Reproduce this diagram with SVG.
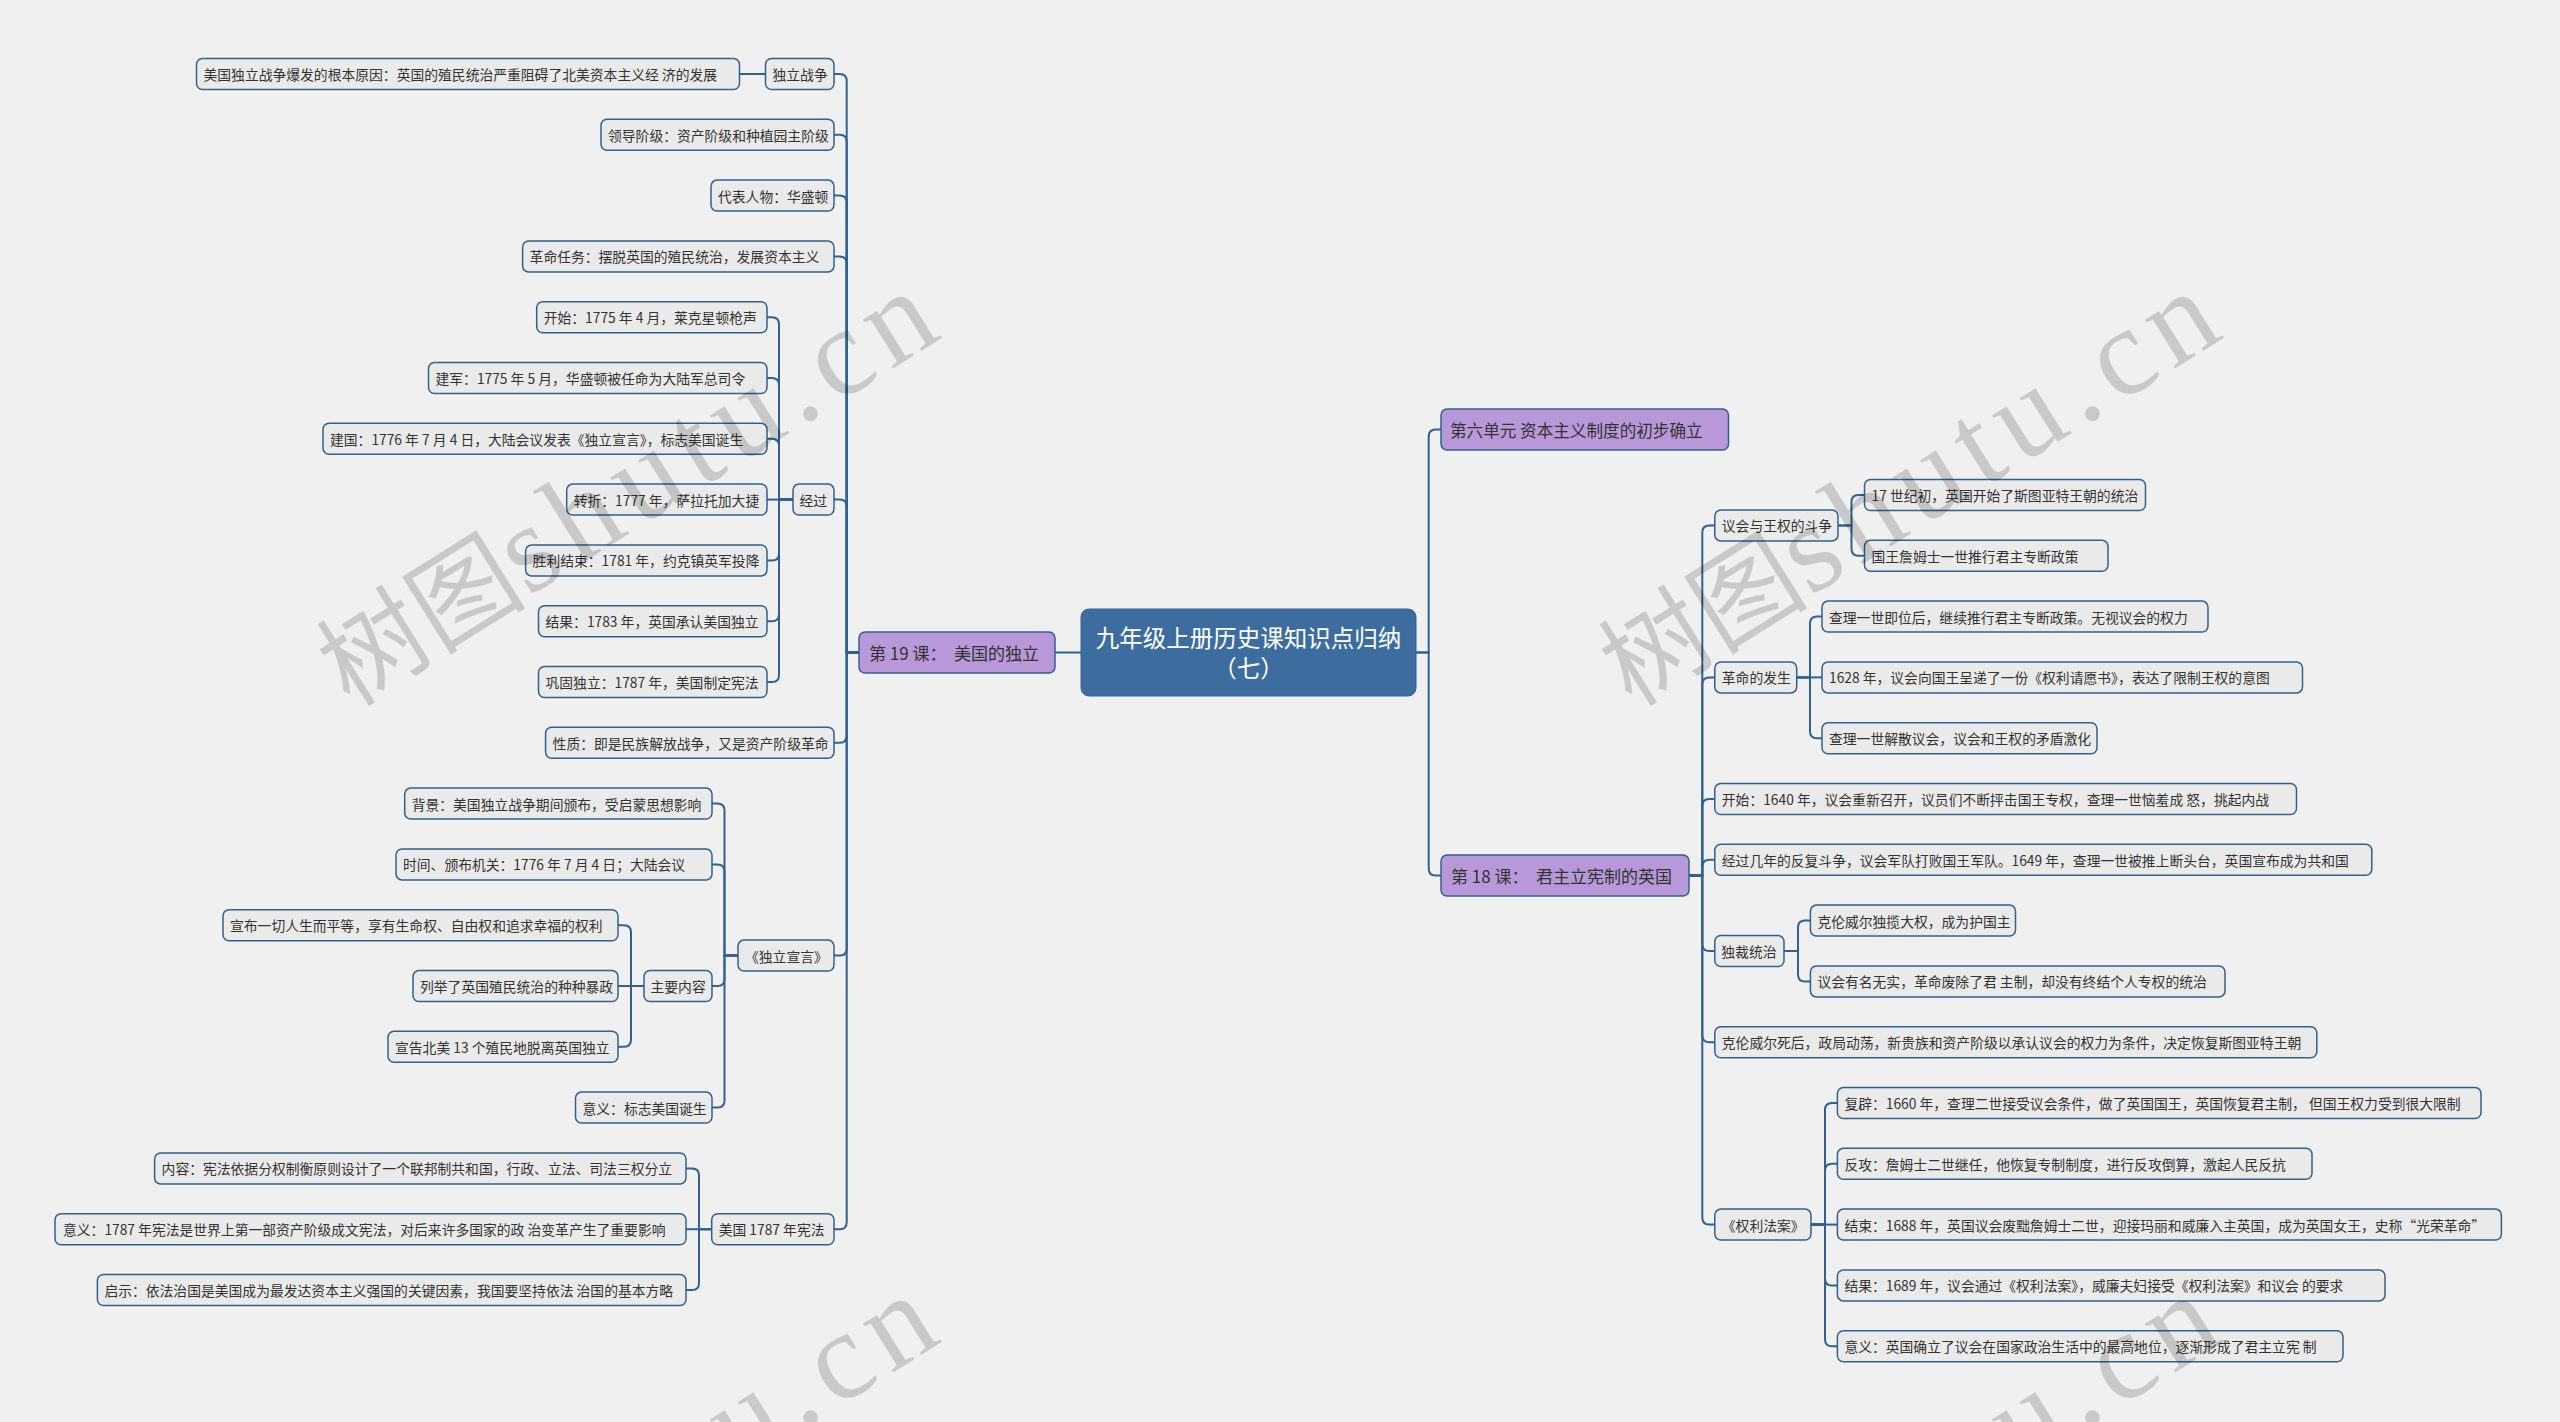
<svg xmlns="http://www.w3.org/2000/svg" width="2560" height="1422" viewBox="0 0 2560 1422">
<style>
.bg{fill:#f0f0f0}
.box{fill:#eaeaea;stroke:#30618f;stroke-width:1.5}
.lv1{fill:#b898d9;stroke:#30618f;stroke-width:1.5}
.root{fill:#3c6d9e;stroke:#35658f;stroke-width:1}
.c{fill:none;stroke:#30618f;stroke-width:2}
.t{font-family:"Noto Sans CJK SC","Liberation Sans",sans-serif;font-size:13.8px;fill:#333333;dominant-baseline:central;white-space:pre}
.t1{font-family:"Noto Sans CJK SC","Liberation Sans",sans-serif;font-size:17px;fill:#333333;dominant-baseline:central;white-space:pre}
.tr{font-family:"Noto Sans CJK SC","Liberation Sans",sans-serif;font-size:23.5px;fill:#ffffff;dominant-baseline:central;text-anchor:middle}
.wm{fill:#000000;fill-opacity:0.16}
.wmc{font-family:"Noto Sans CJK SC",sans-serif;font-size:105px}
.wml{font-family:"Liberation Serif",serif;font-size:125px;letter-spacing:10px}
</style>
<rect class="bg" x="0" y="0" width="2560" height="1422"/>

<g id="connectors">
<path class="c" d="M1081,652.5 H1055"/>
<path class="c" d="M859,652.5 H846.7 V81 Q846.7,74 839.7,74 H834"/>
<path class="c" d="M859,652.5 H846.7 V141.8 Q846.7,134.8 839.7,134.8 H834"/>
<path class="c" d="M859,652.5 H846.7 V202.6 Q846.7,195.6 839.7,195.6 H834"/>
<path class="c" d="M859,652.5 H846.7 V263.4 Q846.7,256.4 839.7,256.4 H834"/>
<path class="c" d="M859,652.5 H846.7 V506.6 Q846.7,499.6 839.7,499.6 H834"/>
<path class="c" d="M859,652.5 H846.7 V735.8 Q846.7,742.8 839.7,742.8 H834"/>
<path class="c" d="M859,652.5 H846.7 V948.6 Q846.7,955.6 839.7,955.6 H834"/>
<path class="c" d="M859,652.5 H846.7 V1222.2 Q846.7,1229.2 839.7,1229.2 H834"/>
<path class="c" d="M765.5,74 H739.5"/>
<path class="c" d="M793,499.6 H779 V324.2 Q779,317.2 772,317.2 H767"/>
<path class="c" d="M793,499.6 H779 V385 Q779,378 772,378 H767"/>
<path class="c" d="M793,499.6 H779 V445.8 Q779,438.8 772,438.8 H767"/>
<path class="c" d="M793,499.6 H767"/>
<path class="c" d="M793,499.6 H779 V553.4 Q779,560.4 772,560.4 H767"/>
<path class="c" d="M793,499.6 H779 V614.2 Q779,621.2 772,621.2 H767"/>
<path class="c" d="M793,499.6 H779 V675 Q779,682 772,682 H767"/>
<path class="c" d="M738,955.6 H724.5 V810.6 Q724.5,803.6 717.5,803.6 H712"/>
<path class="c" d="M738,955.6 H724.5 V871.4 Q724.5,864.4 717.5,864.4 H712"/>
<path class="c" d="M738,955.6 H724.5 V979 Q724.5,986 717.5,986 H712"/>
<path class="c" d="M738,955.6 H724.5 V1100.6 Q724.5,1107.6 717.5,1107.6 H712"/>
<path class="c" d="M644,986 H631 V932.2 Q631,925.2 624,925.2 H618"/>
<path class="c" d="M644,986 H618"/>
<path class="c" d="M644,986 H631 V1039.8 Q631,1046.8 624,1046.8 H618"/>
<path class="c" d="M711.7,1229.2 H699 V1175.4 Q699,1168.4 692,1168.4 H686"/>
<path class="c" d="M711.7,1229.2 H686"/>
<path class="c" d="M711.7,1229.2 H699 V1283 Q699,1290 692,1290 H686"/>

<path class="c" d="M1416,652.5 H1428.7 V436.5 Q1428.7,429.5 1435.7,429.5 H1441"/>
<path class="c" d="M1416,652.5 H1428.7 V868.5 Q1428.7,875.5 1435.7,875.5 H1441"/>
<path class="c" d="M1689,875.5 H1702.3 V532.4 Q1702.3,525.4 1709.3,525.4 H1714.8"/>
<path class="c" d="M1689,875.5 H1702.3 V684.4 Q1702.3,677.4 1709.3,677.4 H1714.8"/>
<path class="c" d="M1689,875.5 H1702.3 V806 Q1702.3,799 1709.3,799 H1714.8"/>
<path class="c" d="M1689,875.5 H1702.3 V866.8 Q1702.3,859.8 1709.3,859.8 H1714.8"/>
<path class="c" d="M1689,875.5 H1702.3 V944 Q1702.3,951 1709.3,951 H1714.8"/>
<path class="c" d="M1689,875.5 H1702.3 V1035.2 Q1702.3,1042.2 1709.3,1042.2 H1714.8"/>
<path class="c" d="M1689,875.5 H1702.3 V1217.6 Q1702.3,1224.6 1709.3,1224.6 H1714.8"/>
<path class="c" d="M1838,525.4 H1851.5 V502 Q1851.5,495 1858.5,495 H1864.5"/>
<path class="c" d="M1838,525.4 H1851.5 V548.8 Q1851.5,555.8 1858.5,555.8 H1864.5"/>
<path class="c" d="M1796.7,677.4 H1810 V623.6 Q1810,616.6 1817,616.6 H1822"/>
<path class="c" d="M1796.7,677.4 H1822"/>
<path class="c" d="M1796.7,677.4 H1810 V731.2 Q1810,738.2 1817,738.2 H1822"/>
<path class="c" d="M1784,951 H1798 V927.6 Q1798,920.6 1805,920.6 H1810.4"/>
<path class="c" d="M1784,951 H1798 V974.4 Q1798,981.4 1805,981.4 H1810.4"/>
<path class="c" d="M1811,1224.6 H1825 V1110 Q1825,1103 1832,1103 H1837.4"/>
<path class="c" d="M1811,1224.6 H1825 V1170.8 Q1825,1163.8 1832,1163.8 H1837.4"/>
<path class="c" d="M1811,1224.6 H1837.4"/>
<path class="c" d="M1811,1224.6 H1825 V1278.4 Q1825,1285.4 1832,1285.4 H1837.4"/>
<path class="c" d="M1811,1224.6 H1825 V1339.2 Q1825,1346.2 1832,1346.2 H1837.4"/>
</g>

<g id="root"><rect class="root" x="1081" y="609" width="335" height="87" rx="8"/><text class="tr" x="1248.5" y="637">九年级上册历史课知识点归纳</text><text class="tr" x="1248.5" y="667">（七）</text></g>

<g id="l19"><rect class="lv1" x="859" y="632" width="196" height="41" rx="6"/><text class="t1" x="869" y="652.5">第 19 课：  美国的独立</text></g>
<g id="n-dlzz"><rect class="box" x="765.5" y="58.5" width="68.5" height="31" rx="6"/><text class="t" x="772.5" y="74">独立战争</text></g>
<g id="n-yuanyin"><rect class="box" x="196.5" y="58.5" width="543" height="31" rx="6"/><text class="t" x="203.5" y="74">美国独立战争爆发的根本原因：英国的殖民统治严重阻碍了北美资本主义经 济的发展</text></g>
<g id="n-lingdao"><rect class="box" x="601" y="119.3" width="233" height="31" rx="6"/><text class="t" x="608" y="134.8">领导阶级：资产阶级和种植园主阶级</text></g>
<g id="n-daibiao"><rect class="box" x="711" y="180.1" width="123" height="31" rx="6"/><text class="t" x="718" y="195.6">代表人物：华盛顿</text></g>
<g id="n-renwu"><rect class="box" x="522.6" y="240.9" width="311.4" height="31" rx="6"/><text class="t" x="529.6" y="256.4">革命任务：摆脱英国的殖民统治，发展资本主义</text></g>
<g id="n-jingguo"><rect class="box" x="793" y="484.1" width="41" height="31" rx="6"/><text class="t" x="799.5" y="499.6">经过</text></g>
<g id="n-kaishi"><rect class="box" x="536.7" y="301.7" width="230.3" height="31" rx="6"/><text class="t" x="543.7" y="317.2">开始：1775 年 4 月，莱克星顿枪声</text></g>
<g id="n-jianjun"><rect class="box" x="428.5" y="362.5" width="338.5" height="31" rx="6"/><text class="t" x="435.5" y="378">建军：1775 年 5 月，华盛顿被任命为大陆军总司令</text></g>
<g id="n-jianguo"><rect class="box" x="323" y="423.3" width="444" height="31" rx="6"/><text class="t" x="330" y="438.8">建国：1776 年 7 月 4 日，大陆会议发表《独立宣言》，标志美国诞生</text></g>
<g id="n-zhuanzhe"><rect class="box" x="566.7" y="484.1" width="200.3" height="31" rx="6"/><text class="t" x="573.7" y="499.6">转折：1777 年，萨拉托加大捷</text></g>
<g id="n-shengli"><rect class="box" x="525.6" y="544.9" width="241.4" height="31" rx="6"/><text class="t" x="532.6" y="560.4">胜利结束：1781 年，约克镇英军投降</text></g>
<g id="n-jieguo"><rect class="box" x="538.5" y="605.7" width="228.5" height="31" rx="6"/><text class="t" x="545.5" y="621.2">结果：1783 年，英国承认美国独立</text></g>
<g id="n-gonggu"><rect class="box" x="538.5" y="666.5" width="228.5" height="31" rx="6"/><text class="t" x="545.5" y="682">巩固独立：1787 年，美国制定宪法</text></g>
<g id="n-xingzhi"><rect class="box" x="545.6" y="727.3" width="288.4" height="31" rx="6"/><text class="t" x="552.6" y="742.8">性质：即是民族解放战争，又是资产阶级革命</text></g>
<g id="n-xuanyan"><rect class="box" x="738" y="940.1" width="96" height="31" rx="6"/><text class="t" x="745" y="955.6">《独立宣言》</text></g>
<g id="n-beijing"><rect class="box" x="404.7" y="788.1" width="307.3" height="31" rx="6"/><text class="t" x="411.7" y="803.6">背景：美国独立战争期间颁布，受启蒙思想影响</text></g>
<g id="n-shijian"><rect class="box" x="396" y="848.9" width="316" height="31" rx="6"/><text class="t" x="403" y="864.4">时间、颁布机关：1776 年 7 月 4 日；大陆会议</text></g>
<g id="n-neirong"><rect class="box" x="644" y="970.5" width="68" height="31" rx="6"/><text class="t" x="650.5" y="986">主要内容</text></g>
<g id="n-xuanbu"><rect class="box" x="223" y="909.7" width="395" height="31" rx="6"/><text class="t" x="230" y="925.2">宣布一切人生而平等，享有生命权、自由权和追求幸福的权利</text></g>
<g id="n-lieju"><rect class="box" x="413" y="970.5" width="205" height="31" rx="6"/><text class="t" x="420" y="986">列举了英国殖民统治的种种暴政</text></g>
<g id="n-xuangao"><rect class="box" x="388" y="1031.3" width="230" height="31" rx="6"/><text class="t" x="395" y="1046.8">宣告北美 13 个殖民地脱离英国独立</text></g>
<g id="n-yiyi1"><rect class="box" x="575.5" y="1092.1" width="136.5" height="31" rx="6"/><text class="t" x="582.5" y="1107.6">意义：标志美国诞生</text></g>
<g id="n-xianfa"><rect class="box" x="711.7" y="1213.7" width="122.3" height="31" rx="6"/><text class="t" x="718.7" y="1229.2">美国 1787 年宪法</text></g>
<g id="n-xfnr"><rect class="box" x="154.6" y="1152.9" width="531.4" height="31" rx="6"/><text class="t" x="161.6" y="1168.4">内容：宪法依据分权制衡原则设计了一个联邦制共和国，行政、立法、司法三权分立</text></g>
<g id="n-xfyy"><rect class="box" x="55" y="1213.7" width="631" height="31" rx="6"/><text class="t" x="63" y="1229.2">意义：1787 年宪法是世界上第一部资产阶级成文宪法，对后来许多国家的政 治变革产生了重要影响</text></g>
<g id="n-qishi"><rect class="box" x="97.4" y="1274.5" width="588.6" height="31" rx="6"/><text class="t" x="104.4" y="1290">启示：依法治国是美国成为最发达资本主义强国的关键因素，我国要坚持依法 治国的基本方略</text></g>

<g id="unit6"><rect class="lv1" x="1441" y="409" width="287.5" height="41" rx="6"/><text class="t1" x="1450" y="429.5" style="font-size:16.6px">第六单元 资本主义制度的初步确立</text></g>
<g id="l18"><rect class="lv1" x="1441" y="855" width="248" height="41" rx="6"/><text class="t1" x="1451" y="875.5">第 18 课：  君主立宪制的英国</text></g>
<g id="r-douzheng"><rect class="box" x="1714.8" y="509.9" width="123.2" height="31" rx="6"/><text class="t" x="1721.8" y="525.4">议会与王权的斗争</text></g>
<g id="r-17"><rect class="box" x="1864.5" y="479.5" width="281" height="31" rx="6"/><text class="t" x="1871.5" y="495">17 世纪初，英国开始了斯图亚特王朝的统治</text></g>
<g id="r-james"><rect class="box" x="1864.5" y="540.3" width="243.5" height="31" rx="6"/><text class="t" x="1871.5" y="555.8">国王詹姆士一世推行君主专断政策</text></g>
<g id="r-fasheng"><rect class="box" x="1714.8" y="661.9" width="81.9" height="31" rx="6"/><text class="t" x="1721.8" y="677.4">革命的发生</text></g>
<g id="r-charles1"><rect class="box" x="1822" y="601.1" width="386" height="31" rx="6"/><text class="t" x="1829" y="616.6">查理一世即位后，继续推行君主专断政策。无视议会的权力</text></g>
<g id="r-1628"><rect class="box" x="1822" y="661.9" width="480.5" height="31" rx="6"/><text class="t" x="1829" y="677.4">1628 年，议会向国王呈递了一份《权利请愿书》，表达了限制王权的意图</text></g>
<g id="r-jiesan"><rect class="box" x="1822" y="722.7" width="275" height="31" rx="6"/><text class="t" x="1829" y="738.2">查理一世解散议会，议会和王权的矛盾激化</text></g>
<g id="r-1640"><rect class="box" x="1714.8" y="783.5" width="581.7" height="31" rx="6"/><text class="t" x="1721.8" y="799">开始：1640 年，议会重新召开，议员们不断抨击国王专权，查理一世恼羞成 怒，挑起内战</text></g>
<g id="r-1649"><rect class="box" x="1714.8" y="844.3" width="657" height="31" rx="6"/><text class="t" x="1721.8" y="859.8">经过几年的反复斗争，议会军队打败国王军队。1649 年，查理一世被推上断头台，英国宣布成为共和国</text></g>
<g id="r-ducai"><rect class="box" x="1714.8" y="935.5" width="69.2" height="31" rx="6"/><text class="t" x="1721.3" y="951">独裁统治</text></g>
<g id="r-huguo"><rect class="box" x="1810.4" y="905.1" width="205.1" height="31" rx="6"/><text class="t" x="1817.4" y="920.6">克伦威尔独揽大权，成为护国主</text></g>
<g id="r-youming"><rect class="box" x="1810.4" y="965.9" width="414.6" height="31" rx="6"/><text class="t" x="1817.4" y="981.4">议会有名无实，革命废除了君 主制，却没有终结个人专权的统治</text></g>
<g id="r-sihou"><rect class="box" x="1714.8" y="1026.7" width="602" height="31" rx="6"/><text class="t" x="1721.8" y="1042.2">克伦威尔死后，政局动荡，新贵族和资产阶级以承认议会的权力为条件，决定恢复斯图亚特王朝</text></g>
<g id="r-faan"><rect class="box" x="1714.8" y="1209.1" width="96.2" height="31" rx="6"/><text class="t" x="1721.8" y="1224.6">《权利法案》</text></g>
<g id="r-fubi"><rect class="box" x="1837.4" y="1087.5" width="643.6" height="31" rx="6"/><text class="t" x="1844.4" y="1103">复辟：1660 年，查理二世接受议会条件，做了英国国王，英国恢复君主制， 但国王权力受到很大限制</text></g>
<g id="r-fangong"><rect class="box" x="1837.4" y="1148.3" width="474.6" height="31" rx="6"/><text class="t" x="1844.4" y="1163.8">反攻：詹姆士二世继任，他恢复专制制度，进行反攻倒算，激起人民反抗</text></g>
<g id="r-jieshu"><rect class="box" x="1837.4" y="1209.1" width="664" height="31" rx="6"/><text class="t" x="1844.4" y="1224.6">结束：1688 年，英国议会废黜詹姆士二世，迎接玛丽和威廉入主英国，成为英国女王，史称“光荣革命”</text></g>
<g id="r-jieguo"><rect class="box" x="1837.4" y="1269.9" width="547.6" height="31" rx="6"/><text class="t" x="1844.4" y="1285.4">结果：1689 年，议会通过《权利法案》，威廉夫妇接受《权利法案》和议会 的要求</text></g>
<g id="r-yiyi"><rect class="box" x="1837.4" y="1330.7" width="505.6" height="31" rx="6"/><text class="t" x="1844.4" y="1346.2">意义：英国确立了议会在国家政治生活中的最高地位，逐渐形成了君主立宪 制</text></g>

<g id="watermark" class="wm">
<text transform="translate(350,708) rotate(-32)"><tspan class="wmc">树图</tspan><tspan class="wml">shutu.cn</tspan></text>
<text transform="translate(1632,708) rotate(-32)"><tspan class="wmc">树图</tspan><tspan class="wml">shutu.cn</tspan></text>
<text transform="translate(350,1712) rotate(-32)"><tspan class="wmc">树图</tspan><tspan class="wml">shutu.cn</tspan></text>
<text transform="translate(1632,1712) rotate(-32)"><tspan class="wmc">树图</tspan><tspan class="wml">shutu.cn</tspan></text>
</g>
</svg>
